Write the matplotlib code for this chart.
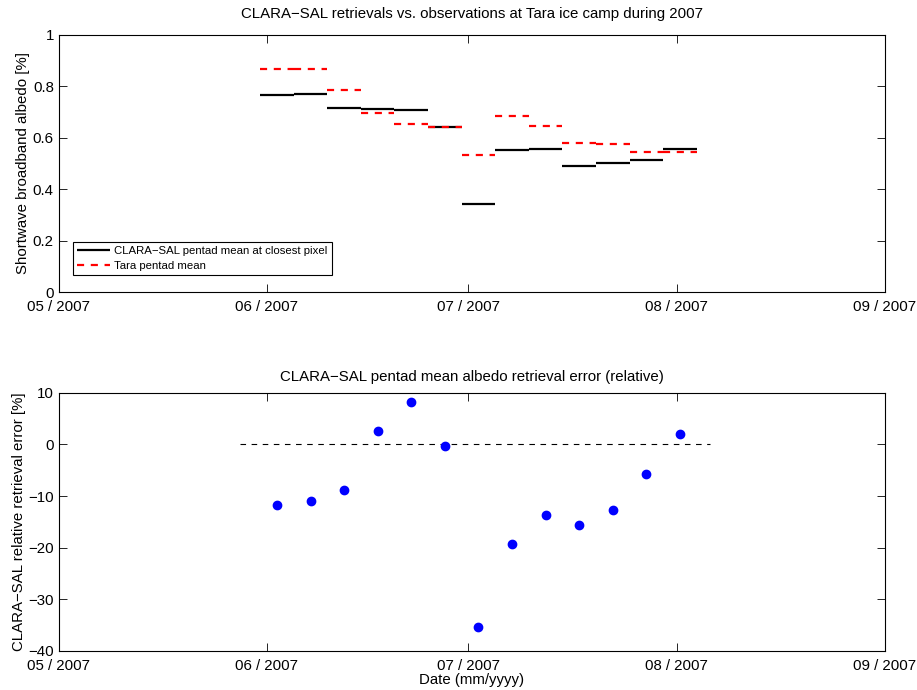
import numpy as np
import matplotlib.pyplot as plt
import matplotlib.dates as mdates
from datetime import datetime, timedelta

plt.rcParams['font.family'] = ['Liberation Sans', 'DejaVu Sans']
plt.rcParams['axes.unicode_minus'] = True

# pentad start dates (5-day periods)
pentad_start = ['2007-05-31', '2007-06-05', '2007-06-10', '2007-06-15', '2007-06-20',
                '2007-06-25', '2007-06-30', '2007-07-05', '2007-07-10', '2007-07-15',
                '2007-07-20', '2007-07-25', '2007-07-30']
clara_mean = [0.766, 0.770, 0.716, 0.711, 0.706, 0.640, 0.343, 0.551, 0.556, 0.489,
              0.501, 0.512, 0.556]
tara_mean = [0.868, 0.866, 0.786, 0.695, 0.653, 0.641, 0.534, 0.684, 0.645, 0.579,
             0.575, 0.543, 0.543]
rel_error = [-11.7, -11.0, -8.9, 2.6, 8.2, -0.35, -35.5, -19.4, -13.7, -15.7,
             -12.7, -5.8, 2.1]
xtick_dates = ['2007-05-01', '2007-06-01', '2007-07-01', '2007-08-01', '2007-09-01']

starts = [datetime.strptime(s, '%Y-%m-%d') for s in pentad_start]
ends = [s + timedelta(days=5) for s in starts]
mids = [s + timedelta(days=2.5) for s in starts]
xticks = [datetime.strptime(s, '%Y-%m-%d') for s in xtick_dates]

fig = plt.figure(figsize=(9.17, 6.9), dpi=100)
ax1 = fig.add_axes([0.064, 0.5768, 0.9008, 0.373])
ax2 = fig.add_axes([0.064, 0.057, 0.9008, 0.3735])

fmt = mdates.DateFormatter('%m / %Y')
fs = 10.8

def style(ax):
    ax.set_xlim(xticks[0], xticks[-1])
    ax.set_xticks(xticks)
    ax.xaxis.set_major_formatter(fmt)
    ax.tick_params(direction='in', top=True, right=True, labelsize=fs, length=6,
                   width=0.6)
    ax.tick_params(axis='x', pad=6)
    for sp in ax.spines.values():
        sp.set_linewidth(0.8)

# top: pentad means
ax1.hlines(clara_mean, starts, ends, colors='k', linewidth=1.6,
           label='CLARA\u2212SAL pentad mean at closest pixel')
ax1.hlines(tara_mean, starts, ends, colors='r', linewidth=1.6,
           linestyles=[(0, (3.2, 3.0))], label='Tara pentad mean')
ax1.set_ylim(0, 1)
ax1.set_yticks([0, 0.2, 0.4, 0.6, 0.8, 1])
ax1.set_yticklabels(['0', '0.2', '0.4', '0.6', '0.8', '1'])
ax1.set_ylabel('Shortwave broadband albedo [%]', fontsize=fs, labelpad=2)
ax1.set_title('CLARA\u2212SAL retrievals vs. observations at Tara ice camp during 2007',
              fontsize=fs, pad=12)
style(ax1)
leg = ax1.legend(loc='lower left', bbox_to_anchor=(0.017, 0.065), fontsize=8.2,
                 fancybox=False, edgecolor='k', framealpha=1, handlelength=2.9,
                 handletextpad=0.4, borderpad=0.35, labelspacing=0.45,
                 borderaxespad=0)
leg.get_frame().set_linewidth(0.8)

# bottom: relative error
ax2.plot([datetime(2007, 5, 28), datetime(2007, 8, 6)], [0, 0], color='k',
         linewidth=0.8, linestyle=(0, (5, 5)))
ax2.plot(mids, rel_error, 'o', color='b', markersize=6)
ax2.set_ylim(-40, 10)
ax2.set_yticks([-40, -30, -20, -10, 0, 10])
ax2.set_ylabel('CLARA\u2212SAL relative retrieval error [%]', fontsize=fs, labelpad=1.5)
ax2.set_xlabel('Date (mm/yyyy)', fontsize=fs, labelpad=0)
ax2.set_title('CLARA\u2212SAL pentad mean albedo retrieval error (relative)',
              fontsize=fs, pad=8.5)
style(ax2)

plt.savefig('out.png', dpi=100)
